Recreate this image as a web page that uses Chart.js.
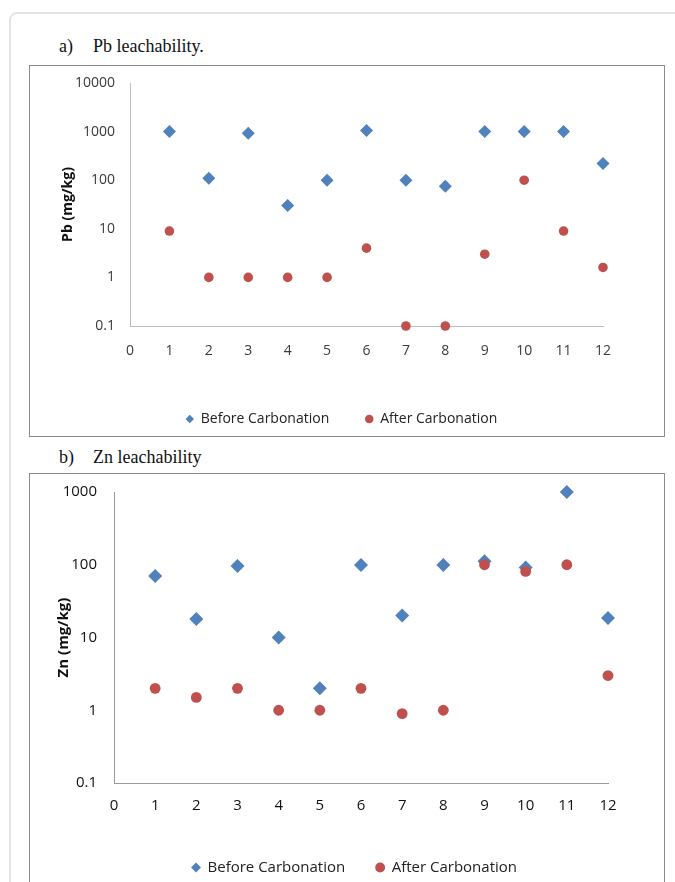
<!DOCTYPE html>
<html>
<head>
<meta charset="utf-8">
<script src="https://cdn.jsdelivr.net/npm/chart.js@4/dist/chart.umd.min.js"></script>
<style>
  html, body { margin: 0; padding: 0; background: #fff; overflow: hidden; }
  body { width: 675px; height: 882px; position: relative; }
  .card { position: absolute; left: 9px; top: 12px; width: 700px; height: 900px;
          border: 2px solid #e4e4e4; border-radius: 8px; }
  .caption { position: absolute; left: 59px; font-family: "Liberation Serif", serif;
             font-size: 18px; color: #111; line-height: 21px; }
  .caption span { position: absolute; left: 34px; white-space: nowrap; }
  .box { position: absolute; left: 29px; width: 634px; border: 1px solid #8a8a8a; background: #fff; }
  .box canvas { display: block; }
</style>
</head>
<body>
<div class="card"></div>
<div class="caption" style="top:36px">a)<span>Pb leachability.</span></div>
<div class="box" style="top:65px;height:370px"><canvas id="pbChart" width="634" height="370"></canvas></div>
<div class="caption" style="top:447px">b)<span>Zn leachability</span></div>
<div class="box" style="top:473px;height:420px"><canvas id="znChart" width="634" height="420"></canvas></div>
<script>
const samples = [1, 2, 3, 4, 5, 6, 7, 8, 9, 10, 11, 12];
const pbBefore = [1000, 110, 920, 30, 100, 1050, 100, 75, 1000, 1000, 1000, 220];
const pbAfter = [9, 1, 1, 1, 1, 4, 0.1, 0.1, 3, 100, 9, 1.6];
const znBefore = [70, 18, 96, 10, 2, 99, 20, 99, 112, 92, 1000, 18.5];
const znAfter = [2, 1.5, 2, 1, 1, 2, 0.9, 1, 100, 81, 100, 3];
const pbTicks = [0.1, 1, 10, 100, 1000, 10000];
const znTicks = [0.1, 1, 10, 100, 1000];
const xMin = 0, xMax = 12;
const seriesNames = ['Before Carbonation', 'After Carbonation'];

const blue = '#4F81BD';
const red = '#C0504D';

// nudge the legend sideways, it sits under the plot area in the original
const legendShift = {
    id: 'legendShift',
    afterLayout(chart, args, opts) {
        if (!chart.legend || !opts.dx) return;
        chart.legend.left += opts.dx;
        chart.legend.right += opts.dx;
    }
};

function points(vals) {
    return samples.map((x, i) => ({ x: x, y: vals[i] }));
}

function makeChart(id, o) {
    const ctx = document.getElementById(id).getContext('2d');
    return new Chart(ctx, {
        type: 'scatter',
        plugins: [legendShift],
        data: {
            datasets: [{
                label: seriesNames[0],
                data: points(o.before),
                pointStyle: 'rectRot',
                pointRadius: o.diamond,
                backgroundColor: blue,
                borderWidth: 0,
                order: 1,
                clip: false
            }, {
                label: seriesNames[1],
                data: points(o.after),
                pointStyle: 'circle',
                pointRadius: o.dot,
                backgroundColor: red,
                borderWidth: 0,
                order: 0, // red on top, like the original
                clip: false
            }]
        },
        options: {
            responsive: false,
            animation: false,
            layout: { padding: o.padding },
            plugins: {
                tooltip: { enabled: false },
                legendShift: { dx: o.legendDx },
                legend: {
                    position: 'bottom',
                    labels: {
                        usePointStyle: true,
                        boxWidth: 8,
                        boxHeight: o.legendBox,
                        padding: o.legendGap,
                        color: '#222',
                        font: { family: 'Open Sans', size: o.legendSize },
                        sort: (a, b) => a.datasetIndex - b.datasetIndex
                    }
                }
            },
            scales: {
                x: {
                    type: 'linear',
                    min: xMin,
                    max: xMax,
                    afterFit: s => { s.height = o.xHeight; },
                    ticks: {
                        stepSize: 1,
                        padding: o.xPad,
                        color: o.tickColor,
                        font: { family: 'Open Sans', size: o.tickSize }
                    },
                    grid: { drawOnChartArea: false, drawTicks: false },
                    border: { color: o.axisColor, width: 1 }
                },
                y: {
                    type: 'logarithmic',
                    min: o.ticks[0],
                    max: o.ticks[o.ticks.length - 1],
                    afterFit: s => {
                        s.width = o.yWidth;
                        s.paddingTop = 0;
                        s.paddingBottom = 0;
                    },
                    afterBuildTicks: s => { s.ticks = o.ticks.map(v => ({ value: v })); },
                    ticks: {
                        padding: o.yPad,
                        color: o.tickColor,
                        font: { family: 'Open Sans', size: o.tickSize },
                        callback: v => String(v)
                    },
                    title: {
                        display: true,
                        text: o.title,
                        color: '#111',
                        padding: { top: o.titlePad, bottom: 0 },
                        font: { family: 'Open Sans', size: o.titleSize, weight: 'bold' }
                    },
                    grid: { drawOnChartArea: false, drawTicks: false },
                    border: { color: o.axisColor, width: 1 }
                }
            }
        }
    });
}

makeChart('pbChart', {
    before: pbBefore, after: pbAfter, ticks: pbTicks,
    title: 'Pb (mg/kg)', titleSize: 14, titlePad: 29.6,
    tickSize: 14, tickColor: '#3a3a3a', axisColor: '#bdbdbd',
    diamond: 6.5, dot: 4.8, legendBox: 6, legendGap: 36, legendSize: 14, legendDx: 25,
    yWidth: 100, yPad: 15, xHeight: 50, xPad: 17,
    padding: { top: 17, right: 61, bottom: 0, left: 0 }
});

makeChart('znChart', {
    before: znBefore, after: znAfter, ticks: znTicks,
    title: 'Zn (mg/kg)', titleSize: 15, titlePad: 25,
    tickSize: 15, tickColor: '#111', axisColor: '#9a9a9a',
    diamond: 7, dot: 5.4, legendBox: 7, legendGap: 31, legendSize: 15, legendDx: 35.5,
    yWidth: 84, yPad: 17, xHeight: 46, xPad: 14,
    padding: { top: 18, right: 56, bottom: 9, left: 0 }
});
</script>
</body>
</html>
